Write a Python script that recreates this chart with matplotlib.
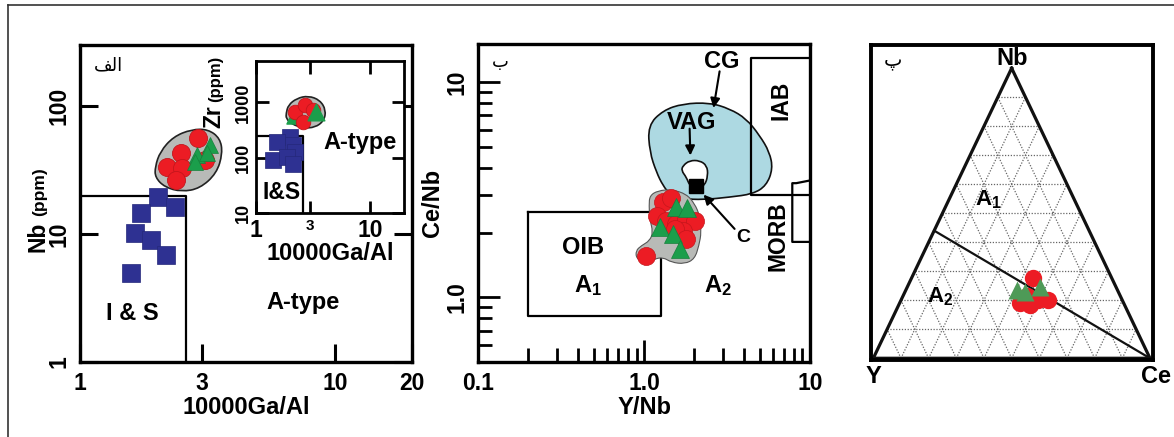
import numpy as np
import matplotlib
matplotlib.use('Agg')
import matplotlib.pyplot as plt
from matplotlib.path import Path
from matplotlib.patches import PathPatch
from matplotlib.lines import Line2D
from matplotlib.ticker import FixedLocator, NullLocator, FixedFormatter, LogLocator, NullFormatter

plt.rcParams['font.family'] = ['Liberation Sans', 'DejaVu Sans']
plt.rcParams['font.weight'] = 'bold'
plt.rcParams['axes.labelweight'] = 'bold'
plt.rcParams['mathtext.default'] = 'regular'

# ---------------- data ----------------
# Panel (alef): Nb (ppm) vs 10000Ga/Al
is_gaal = [2.03, 2.36, 1.73, 1.64, 1.90, 2.17, 1.58]
is_nb = [19.6, 16.3, 14.5, 10.1, 9.0, 6.8, 5.0]
circ_gaal = [2.91, 2.49, 2.19, 2.50, 2.38, 3.09]
circ_nb = [55.9, 43.2, 33.2, 32.6, 26.4, 37.9]
tri_gaal = [3.23, 2.87, 2.82, 3.15]
tri_nb = [49.6, 41.4, 36.7, 42.7]
env1_gaal = [1.97, 2.06, 2.32, 2.74, 3.18, 3.54, 3.62, 3.43, 2.95, 2.50, 2.15, 1.97]
env1_nb = [33.6, 44.0, 57.6, 65.8, 65.8, 55.9, 42.7, 29.8, 22.7, 21.4, 23.2, 27.7]
bound1_gaal = [1.0, 2.6, 2.6]
bound1_nb = [20, 20, 1.0]

# Inset: Zr (ppm) vs 10000Ga/Al
isz_gaal = [1.99, 1.52, 2.13, 2.20, 1.42, 1.86, 2.13]
isz_zr = [237, 192, 167, 126, 89, 103, 78]
circz_gaal = [2.20, 2.70, 3.15, 2.61]
circz_zr = [675, 893, 724, 444]
triz_gaal = [2.06, 3.37]
triz_zr = [512, 666]
triz_size = [8, 12]
envz_gaal = [1.84, 1.92, 2.28, 2.88, 3.65, 4.12, 3.96, 3.30, 2.61, 2.06, 1.84]
envz_zr = [631, 893, 1183, 1318, 1101, 724, 463, 351, 345, 403, 512]
boundz_gaal = [1.0, 2.6, 2.6]
boundz_zr = [250, 250, 10]

# Panel (be): Ce/Nb vs Y/Nb
circ_ynb = [1.30, 1.46, 1.19, 1.36, 1.56, 1.80, 2.02, 1.71, 1.53, 1.80, 1.03]
circ_cenb = [2.77, 2.89, 2.40, 2.27, 2.19, 2.31, 2.27, 2.04, 2.08, 1.87, 1.56]
tri_ynb = [1.55, 1.81, 1.24, 1.49, 1.64]
tri_cenb = [2.62, 2.59, 2.12, 1.97, 1.68]
env2_ynb = [1.081, 1.213, 1.460, 1.798, 2.017, 2.161, 2.213, 2.140, 2.017, 1.756, 1.460,
            1.30, 1.158, 1.032, 0.899, 0.890, 0.963, 1.081, 1.131, 1.081, 1.070]
env2_cenb = [2.97, 3.13, 3.17, 3.02, 2.72, 2.40, 2.01, 1.74, 1.51, 1.43, 1.455,
             1.535, 1.51, 1.44, 1.51, 1.647, 1.74, 1.833, 2.01, 2.31, 2.67]
cg_ynb = [1.055, 1.30, 1.714, 2.483, 3.277, 4.13, 4.966, 5.70, 5.97, 5.45, 4.52, 3.277,
          2.262, 1.714, 1.426, 1.30, 1.186, 1.08]
cg_cenb = [6.28, 7.38, 7.93, 8.01, 7.51, 6.75, 5.65, 4.73, 3.95, 3.30, 3.02, 2.92,
           2.84, 2.87, 3.02, 3.30, 3.81, 4.73]
vag_ynb = [1.714, 1.882, 2.161, 2.391, 2.425, 2.317, 2.065, 1.882, 1.798, 1.677]
vag_cenb = [4.09, 4.32, 4.32, 4.09, 3.68, 3.30, 3.19, 3.30, 3.61, 3.88]
c_ynb = [2.04]
c_cenb = [3.30]
oib_ynb = [0.2, 1.27, 1.27, 0.2, 0.2]
oib_cenb = [2.5, 2.5, 0.82, 0.82, 2.5]
iab_ynb = [10, 4.43, 4.43, 10]
iab_cenb = [12.9, 12.9, 3.0, 3.0]
morb_ynb = [10, 7.82, 7.82, 8.26, 10]
morb_cenb = [1.81, 1.81, 3.39, 3.39, 3.49]

# Panel (pe): ternary Nb - Y - Ce
circ_t_nb = [0.276, 0.190, 0.184, 0.201, 0.201, 0.215]
circ_t_y = [0.284, 0.375, 0.342, 0.267, 0.303, 0.337]
circ_t_ce = [0.440, 0.435, 0.474, 0.532, 0.496, 0.448]
tri_t_nb = [0.236, 0.230, 0.247]
tri_t_y = [0.364, 0.337, 0.274]
tri_t_ce = [0.400, 0.433, 0.479]
div_t_nb = [0.44, 0.0]
div_t_y = [0.56, 0.0]
div_t_ce = [0.0, 1.0]

RED = '#EC1C24'
RED_E = '#C4161C'
GREEN = '#1B9E4B'
GREEN3 = '#4E9A57'
BLUE = '#2E3192'
GRAY = '#B8BAB7'
LBLUE = '#ADD9E2'
ARABIC = ['DejaVu Sans']
TICK = 16.5
LAB = 17


def smooth_closed(xs, ys, logx=True, logy=True):
    u = np.log10(xs) if logx else np.asarray(xs, float)
    v = np.log10(ys) if logy else np.asarray(ys, float)
    mu = (u + np.roll(u, -1)) / 2
    mv = (v + np.roll(v, -1)) / 2
    verts = [(mu[-1], mv[-1])]
    codes = [Path.MOVETO]
    for i in range(len(u)):
        verts += [(u[i], v[i]), (mu[i], mv[i])]
        codes += [Path.CURVE3, Path.CURVE3]
    verts.append(verts[0])
    codes.append(Path.CLOSEPOLY)
    verts = np.array(verts)
    if logx:
        verts[:, 0] = 10 ** verts[:, 0]
    if logy:
        verts[:, 1] = 10 ** verts[:, 1]
    return Path(verts, codes)


W, H = 1174, 437
fig = plt.figure(figsize=(W / 100, H / 100), dpi=100)


def ax_px(x0, y0, x1, y1):
    return fig.add_axes([x0 / W, 1 - y1 / H, (x1 - x0) / W, (y1 - y0) / H])


# figure frame (top and left)
fig.add_artist(Line2D([8 / W, 8 / W], [0, 1 - 5 / H], transform=fig.transFigure,
                      color='#333333', lw=1.2))
fig.add_artist(Line2D([8 / W, 1], [1 - 5 / H, 1 - 5 / H], transform=fig.transFigure,
                      color='#333333', lw=1.2))

# ================= Panel 1 =================
ax1 = ax_px(80, 45, 412, 362)
ax1.set_xscale('log')
ax1.set_yscale('log')
ax1.set_xlim(1, 20)
ax1.set_ylim(1, 300)
ax1.xaxis.set_major_locator(FixedLocator([1, 3, 10, 20]))
ax1.xaxis.set_major_formatter(FixedFormatter(['1', '3', '10', '20']))
ax1.xaxis.set_minor_locator(NullLocator())
ax1.yaxis.set_major_locator(FixedLocator([1, 10, 100]))
ax1.yaxis.set_major_formatter(FixedFormatter(['1', '10', '100']))
ax1.yaxis.set_minor_locator(NullLocator())
ax1.tick_params(direction='in', length=13, width=2.2, labelsize=TICK, pad=7, right=True)
for lab in ax1.get_yticklabels():
    lab.set_rotation(90)
    lab.set_va('center')
for s in ax1.spines.values():
    s.set_linewidth(2.4)
ax1.plot(bound1_gaal, bound1_nb, color='black', lw=1.6, zorder=1)
ax1.add_patch(PathPatch(smooth_closed(env1_gaal, env1_nb), facecolor=GRAY,
                        edgecolor='#222222', lw=1.2, zorder=2))
ax1.plot(is_gaal, is_nb, 's', ms=12.5, color=BLUE, mec='#24287a', mew=0.5, zorder=3)
ax1.plot(circ_gaal, circ_nb, 'o', ms=13, color=RED, mec=RED_E, mew=0.6, zorder=3)
ax1.plot(tri_gaal, tri_nb, '^', ms=12, color=GREEN, mec='#16803c', mew=0.5, zorder=4)
ax1.text(1.61, 2.41, 'I & S', fontsize=17, ha='center', va='center')
ax1.text(7.48, 2.94, 'A-type', fontsize=17, ha='center', va='center')
ax1.text(0.085, 0.935, '\uFED2\uFEDF\uFE8D', transform=ax1.transAxes, family=ARABIC,
         fontsize=13, ha='center', va='center', fontweight='normal')
ax1.set_xlabel('10000Ga/Al', fontsize=LAB, labelpad=1)
fig.text(44 / W, 1 - 252 / H, 'Nb', rotation=90, rotation_mode='anchor',
         ha='left', va='baseline', fontsize=16.5)
fig.text(44 / W, 1 - 216 / H, '(ppm)', rotation=90, rotation_mode='anchor',
         ha='left', va='baseline', fontsize=12.5)

# ================= Inset =================
axi = ax_px(256, 61, 404, 213)
axi.set_facecolor('white')
axi.set_xscale('log')
axi.set_yscale('log')
axi.set_xlim(1, 20)
axi.set_ylim(10, 5600)
axi.xaxis.set_major_locator(FixedLocator([1, 3, 10]))
axi.xaxis.set_major_formatter(FixedFormatter(['1', '3', '10']))
axi.xaxis.set_minor_locator(NullLocator())
axi.yaxis.set_major_locator(FixedLocator([10, 100, 1000]))
axi.yaxis.set_major_formatter(FixedFormatter(['10', '100', '1000']))
axi.yaxis.set_minor_locator(NullLocator())
axi.tick_params(direction='in', length=9, width=2.0, labelsize=TICK, pad=4,
                top=True, right=True)
axi.tick_params(axis='y', labelsize=13, pad=3)
xl = axi.get_xticklabels()
xl[1].set_fontsize(11)
for lab in axi.get_yticklabels():
    lab.set_rotation(90)
    lab.set_va('center')
for s in axi.spines.values():
    s.set_linewidth(2.0)
axi.plot(boundz_gaal, boundz_zr, color='black', lw=1.6, zorder=1)
axi.add_patch(PathPatch(smooth_closed(envz_gaal, envz_zr), facecolor=GRAY,
                        edgecolor='#222222', lw=1.2, zorder=2))
axi.plot(isz_gaal, isz_zr, 's', ms=11, color=BLUE, mec='#24287a', mew=0.5, zorder=3)
axi.scatter(triz_gaal[:1], triz_zr[:1], marker='^', s=np.array(triz_size[:1]) ** 2,
            color=GREEN, zorder=3)
axi.plot(circz_gaal, circz_zr, 'o', ms=10.5, color=RED, mec=RED_E, mew=0.6, zorder=3.5)
axi.scatter(triz_gaal[1:], triz_zr[1:], marker='^', s=np.array(triz_size[1:]) ** 2,
            color=GREEN, zorder=4)
axi.text(8.21, 192, 'A-type', fontsize=17, ha='center', va='center')
axi.text(1.68, 23.7, 'I&S', fontsize=16.5, ha='center', va='center')
axi.set_xlabel('10000Ga/Al', fontsize=LAB, labelpad=0)
fig.text(220 / W, 1 - 128 / H, 'Zr', rotation=90, rotation_mode='anchor',
         ha='left', va='baseline', fontsize=16.5)
fig.text(220 / W, 1 - 102 / H, '(ppm)', rotation=90, rotation_mode='anchor',
         ha='left', va='baseline', fontsize=12)

# ================= Panel 2 =================
ax2 = ax_px(478.3, 44, 810, 362.3)
ax2.set_xscale('log')
ax2.set_yscale('log')
ax2.set_xlim(0.1, 10)
ax2.set_ylim(0.5, 15)
ax2.xaxis.set_major_locator(FixedLocator([0.1, 1, 10]))
ax2.xaxis.set_major_formatter(FixedFormatter(['0.1', '1.0', '10']))
ax2.xaxis.set_minor_locator(LogLocator(base=10, subs=np.arange(2, 10)))
ax2.xaxis.set_minor_formatter(NullFormatter())
ax2.yaxis.set_major_locator(FixedLocator([1, 10]))
ax2.yaxis.set_major_formatter(FixedFormatter(['1.0', '10']))
ax2.yaxis.set_minor_locator(LogLocator(base=10, subs=np.arange(2, 10)))
ax2.yaxis.set_minor_formatter(NullFormatter())
ax2.tick_params(which='major', direction='in', length=16, width=2.0, labelsize=TICK, pad=7)
ax2.tick_params(which='minor', direction='in', length=10, width=2.0)
for lab in ax2.get_yticklabels():
    lab.set_rotation(90)
    lab.set_va('center')
for s in ax2.spines.values():
    s.set_linewidth(2.4)
ax2.add_patch(PathPatch(smooth_closed(cg_ynb, cg_cenb), facecolor=LBLUE,
                        edgecolor='#111111', lw=1.2, zorder=1))
ax2.add_patch(PathPatch(smooth_closed(vag_ynb, vag_cenb), facecolor='white',
                        edgecolor='#111111', lw=1.2, zorder=1.2))
ax2.plot(oib_ynb, oib_cenb, color='black', lw=1.6, zorder=1.5)
ax2.plot(iab_ynb, iab_cenb, color='black', lw=1.6, zorder=1.5)
ax2.plot(morb_ynb, morb_cenb, color='black', lw=1.6, zorder=1.5)
ax2.add_patch(PathPatch(smooth_closed(env2_ynb, env2_cenb), facecolor=GRAY,
                        edgecolor='#555555', lw=0.8, zorder=2))
ax2.plot(circ_ynb, circ_cenb, 'o', ms=13, color=RED, mec=RED_E, mew=0.5, zorder=3)
ax2.plot(tri_ynb, tri_cenb, '^', ms=13, color=GREEN, mec='#16803c', mew=0.5, zorder=4)
ax2.plot(c_ynb, c_cenb, 's', ms=9.5, color='black', zorder=5)
arr = dict(arrowstyle='-|>', color='black', lw=1.5, mutation_scale=14, shrinkA=0, shrinkB=0)
ax2.annotate('', xy=(2.62, 7.57), xytext=(2.85, 11.2), arrowprops=arr, zorder=6)
ax2.annotate('', xy=(1.90, 4.56), xytext=(1.88, 6.07), arrowprops=arr, zorder=6)
ax2.annotate('', xy=(2.28, 3.0), xytext=(3.51, 2.08), arrowprops=arr, zorder=6)
ax2.text(2.92, 12.4, 'CG', fontsize=17, ha='center', va='center')
ax2.text(1.93, 6.51, 'VAG', fontsize=17, ha='center', va='center')
ax2.text(3.94, 1.90, 'C', fontsize=14, ha='center', va='center')
ax2.text(0.429, 1.71, 'OIB', fontsize=17, ha='center', va='center')
ax2.text(0.459, 1.13, 'A$_1$', fontsize=17, ha='center', va='center')
ax2.text(2.79, 1.13, 'A$_2$', fontsize=17, ha='center', va='center')
ax2.text(6.71, 8.21, 'IAB', fontsize=16.5, rotation=90, ha='center', va='center')
ax2.text(6.40, 1.93, 'MORB', fontsize=16.5, rotation=90, ha='center', va='center')
ax2.text(0.065, 0.943, '\u0628', transform=ax2.transAxes, family=ARABIC,
         fontsize=13, ha='center', va='center', fontweight='normal')
ax2.set_xlabel('Y/Nb', fontsize=LAB, labelpad=1)
ax2.set_ylabel('Ce/Nb', fontsize=LAB, labelpad=1)

# ================= Panel 3 (ternary) =================
ax3 = ax_px(870.7, 45, 1152.7, 360)
ax3.set_xlim(-0.0094, 1.0098)
ax3.set_ylim(-0.006, 1.080)
ax3.set_xticks([])
ax3.set_yticks([])
for s in ax3.spines.values():
    s.set_linewidth(2.8)


def tern(nb, y, ce):
    nb = np.asarray(nb, float)
    y = np.asarray(y, float)
    ce = np.asarray(ce, float)
    s = nb + y + ce
    return (ce + 0.5 * nb) / s, nb / s


grid_levels = [0.1, 0.2, 0.3, 0.4, 0.5, 0.6, 0.7, 0.8, 0.9]
for k in grid_levels:
    for a, b in [(tern([k, k], [1 - k, 0], [0, 1 - k])),
                 (tern([0, 1 - k], [1 - k, 0], [k, k])),
                 (tern([0, 1 - k], [k, k], [1 - k, 0]))]:
        ax3.plot(a, b, color='#666666', lw=0.9, ls=(0, (1, 1.3)), zorder=1)
tx, ty = tern([1, 0, 0, 1], [0, 1, 0, 0], [0, 0, 1, 0])
ax3.plot(tx, ty, color='#111111', lw=2.3, solid_joinstyle='miter', zorder=2)
dx, dy = tern(div_t_nb, div_t_y, div_t_ce)
ax3.plot(dx, dy, color='#111111', lw=1.6, zorder=2)
cx, cy = tern(circ_t_nb, circ_t_y, circ_t_ce)
ax3.plot(cx, cy, 'o', ms=12.5, color=RED, mec='none', zorder=3)
gx, gy = tern(tri_t_nb, tri_t_y, tri_t_ce)
ax3.plot(gx, gy, '^', ms=12.5, color=GREEN3, mec='none', zorder=4)
ax3.text(0.5, 1.034, 'Nb', fontsize=17, ha='center', va='center')
ax3.text(0.0, -0.063, 'Y', fontsize=17, ha='center', va='center', clip_on=False)
ax3.text(1.02, -0.063, 'Ce', fontsize=17, ha='center', va='center', clip_on=False)
ax3.text(0.4156, 0.546, 'A$_1$', fontsize=16, ha='center', va='center')
ax3.text(0.241, 0.212, 'A$_2$', fontsize=16, ha='center', va='center')
ax3.text(0.072, 1.023, '\u067E', family=ARABIC, fontsize=14, ha='center', va='center',
         fontweight='normal')

fig.savefig('out.png', dpi=100)
